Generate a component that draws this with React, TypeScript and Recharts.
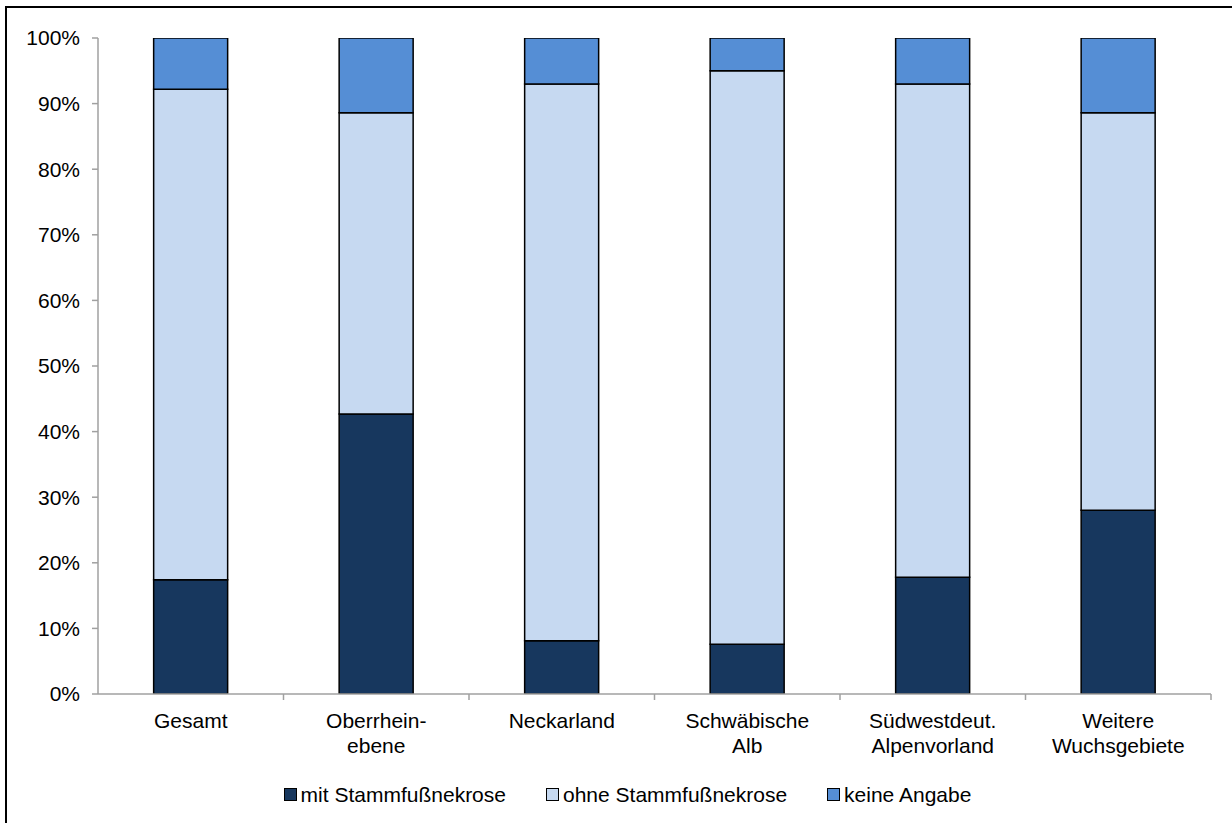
import { BarChart, Bar, XAxis, YAxis, Legend } from 'recharts'

const categories = [
  'Gesamt',
  'Oberrhein-\nebene',
  'Neckarland',
  'Schwäbische\nAlb',
  'Südwestdeut.\nAlpenvorland',
  'Weitere\nWuchsgebiete',
]
const mitNekrose = [17.4, 42.7, 8.1, 7.6, 17.8, 28.0]
const ohneNekrose = [74.8, 45.9, 84.9, 87.4, 75.2, 60.6]
const keineAngabe = [7.8, 11.4, 7.0, 5.0, 7.0, 11.4]
const yTicks = [0, 10, 20, 30, 40, 50, 60, 70, 80, 90, 100]

const series = [
  { key: 'mit', name: 'mit Stammfußnekrose', color: '#17375e' },
  { key: 'ohne', name: 'ohne Stammfußnekrose', color: '#c6d9f1' },
  { key: 'keine', name: 'keine Angabe', color: '#558ed5' },
]

const data = categories.map((c, i) => ({
  name: c,
  mit: mitNekrose[i],
  ohne: ohneNekrose[i],
  keine: keineAngabe[i],
}))

const FONT = '"Liberation Sans", Arial, sans-serif'
const CHART_W = 1232
const Y_AXIS_W = 98
const RIGHT = 21
// half a category band, used to put the x tick marks between the groups like Excel does
const HALF_BAND = (CHART_W - Y_AXIS_W - RIGHT) / categories.length / 2

function CategoryTick({ x, y, payload }: any) {
  const lines = String(payload.value).split('\n')
  const bx = x + HALF_BAND
  return (
    <g>
      <line x1={bx} x2={bx} y1={y - 8} y2={y - 2} stroke="#a0a0a0" strokeWidth={1.5} />
      <text x={x} y={y} textAnchor="middle" fill="#000" fontSize={21} fontFamily={FONT}>
        {lines.map((l, i) => (
          <tspan key={i} x={x} dy={i === 0 ? 26 : 25}>
            {l}
          </tspan>
        ))}
      </text>
    </g>
  )
}

function LegendContent() {
  return (
    <div
      style={{
        height: 59,
        paddingTop: 2,
        paddingLeft: 44,
        boxSizing: 'border-box',
        display: 'flex',
        justifyContent: 'center',
        fontFamily: FONT,
        fontSize: 21,
        lineHeight: '22px',
        color: '#000',
      }}
    >
      {series.map((s) => (
        <div key={s.key} style={{ display: 'flex', alignItems: 'center', margin: '0 20px' }}>
          <span
            style={{
              display: 'inline-block',
              width: 11,
              height: 11,
              background: s.color,
              border: '1.5px solid #000',
              marginRight: 4,
            }}
          />
          <span>{s.name}</span>
        </div>
      ))}
    </div>
  )
}

export default function App() {
  return (
    <div
      style={{
        position: 'absolute',
        left: 0,
        top: 0,
        width: 1232,
        height: 823,
        overflow: 'hidden',
        background: '#fff',
      }}
    >
      <div
        style={{
          position: 'absolute',
          left: 5,
          top: 6,
          width: 1240,
          height: 840,
          border: '2px solid #000',
        }}
      />
      <div style={{ position: 'absolute', left: 0, top: 0 }}>
        <BarChart
          width={CHART_W}
          height={823}
          data={data}
          margin={{ top: 38, right: RIGHT, left: 0, bottom: 0 }}
          barCategoryGap="30%"
        >
          <XAxis
            dataKey="name"
            height={70}
            interval={0}
            tick={<CategoryTick />}
            tickLine={false}
            axisLine={{ stroke: '#a0a0a0', strokeWidth: 1.5 }}
          />
          <YAxis
            width={Y_AXIS_W}
            domain={[0, 100]}
            ticks={yTicks}
            tickFormatter={(v) => `${v}%`}
            tick={{ fill: '#000', fontSize: 21, fontFamily: FONT }}
            tickSize={6}
            tickMargin={12}
            tickLine={{ stroke: '#a0a0a0', strokeWidth: 1.5 }}
            axisLine={{ stroke: '#a0a0a0', strokeWidth: 1.5 }}
            allowDataOverflow
          />
          <Legend verticalAlign="bottom" content={<LegendContent />} />
          {series.map((s) => (
            <Bar
              key={s.key}
              dataKey={s.key}
              name={s.name}
              stackId="a"
              fill={s.color}
              stroke="#000"
              strokeWidth={1.5}
              isAnimationActive={false}
            />
          ))}
        </BarChart>
      </div>
    </div>
  )
}
